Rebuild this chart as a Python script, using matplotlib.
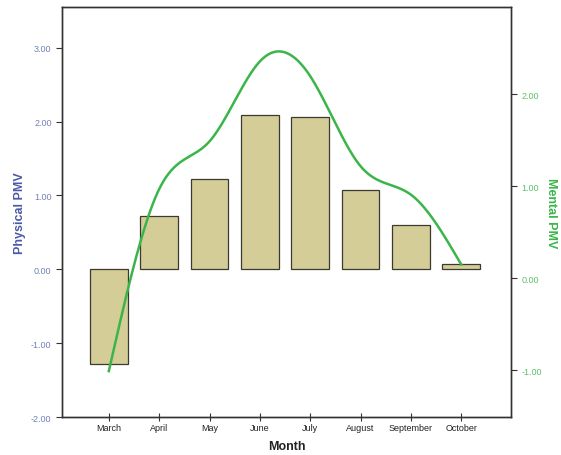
import numpy as np
import matplotlib.pyplot as plt

plt.rcParams["font.family"] = ["Liberation Sans", "DejaVu Sans"]

months = ["March", "April", "May", "June", "July", "August", "September", "October"]
physical_pmv = [-1.28, 0.72, 1.23, 2.09, 2.06, 1.08, 0.60, 0.07]
mental_pmv = [-1.01, 0.97, 1.49, 2.36, 2.20, 1.22, 0.91, 0.15]
left_ticks = [-2, -1, 0, 1, 2, 3]
right_ticks = [-1, 0, 1, 2]

blue = "#4b5aa8"
blue_tick = "#7180b8"
green = "#3bb54a"
green_tick = "#5cbf68"


def natural_spline(x, y, n=400):
    # natural cubic spline through the data points (smooth line like SPSS)
    x = np.asarray(x, float)
    y = np.asarray(y, float)
    k = len(x)
    h = np.diff(x)
    A = np.zeros((k, k))
    b = np.zeros(k)
    A[0, 0] = A[-1, -1] = 1
    for i in range(1, k - 1):
        A[i, i - 1] = h[i - 1]
        A[i, i] = 2 * (h[i - 1] + h[i])
        A[i, i + 1] = h[i]
        b[i] = 6 * ((y[i + 1] - y[i]) / h[i] - (y[i] - y[i - 1]) / h[i - 1])
    M = np.linalg.solve(A, b)
    xs = np.linspace(x[0], x[-1], n)
    idx = np.clip(np.searchsorted(x, xs) - 1, 0, k - 2)
    x0, x1 = x[idx], x[idx + 1]
    hh = x1 - x0
    ys = (M[idx] * (x1 - xs) ** 3 / (6 * hh) + M[idx + 1] * (xs - x0) ** 3 / (6 * hh)
          + (y[idx] / hh - M[idx] * hh / 6) * (x1 - xs)
          + (y[idx + 1] / hh - M[idx + 1] * hh / 6) * (xs - x0))
    return xs, ys


fig = plt.figure(figsize=(5.61, 4.56), dpi=100)
ax = fig.add_axes([0.1105, 0.0833, 0.8005, 0.8987])
x = np.arange(len(months))

ax.bar(x, physical_pmv, width=0.75, color="#d4cd98", edgecolor="#3a3a30",
       linewidth=0.9, zorder=2)
ax.set_xlim(-0.93, 7.99)
ax.set_ylim(-2.0, 3.55)
ax.set_yticks(left_ticks)
ax.set_yticklabels([f"{t:.2f}" for t in left_ticks])
ax.set_xticks(x)
ax.set_xticklabels(months)
ax.tick_params(axis="y", colors="#333333", labelcolor=blue_tick, labelsize=6.5,
               length=4, width=0.8, direction="out")
ax.tick_params(axis="x", labelsize=6.5, length=6, width=0.8, direction="inout",
               colors="#333333", labelcolor="#222222", pad=1)
ax.set_xlabel("Month", fontsize=9, fontweight="bold", color="#222222", labelpad=6)
ax.set_ylabel("Physical PMV", fontsize=9, fontweight="bold", color=blue, labelpad=4)
for s in ax.spines.values():
    s.set_color("#333333")
    s.set_linewidth(1.0)

ax2 = ax.twinx()
xs, ys = natural_spline(x, mental_pmv)
ax2.plot(xs, ys, color=green, linewidth=1.8, zorder=3)
ax2.set_ylim(-1.51, 2.95)
ax2.set_yticks(right_ticks)
ax2.set_yticklabels([f"{t:.2f}" for t in right_ticks])
ax2.tick_params(axis="y", colors="#333333", labelcolor=green_tick, labelsize=6.5,
                length=4, width=0.8, direction="out")
ax2.set_ylabel("Mental PMV", fontsize=9, fontweight="bold", color=green,
               rotation=-90, labelpad=11)
for s in ax2.spines.values():
    s.set_color("#333333")
    s.set_linewidth(1.0)

fig.savefig("out.png", dpi=100)
